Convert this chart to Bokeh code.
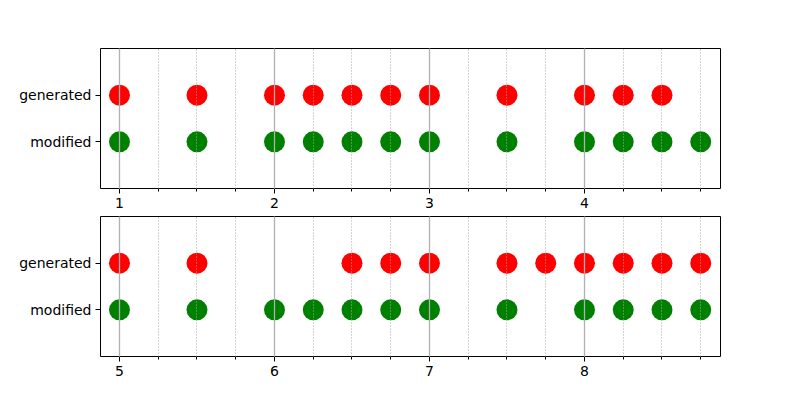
from bokeh.plotting import figure
from bokeh.layouts import column
from bokeh.models import Range1d, FactorRange, SingleIntervalTicker
from bokeh.embed import file_html
from bokeh.resources import INLINE

categories = ["modified", "generated"]

top_generated_x = [1, 1.5, 2, 2.25, 2.5, 2.75, 3, 3.5, 4, 4.25, 4.5]
top_modified_x = [1, 1.5, 2, 2.25, 2.5, 2.75, 3, 3.5, 4, 4.25, 4.5, 4.75]
bottom_generated_x = [5, 5.5, 6.5, 6.75, 7, 7.5, 7.75, 8, 8.25, 8.5, 8.75]
bottom_modified_x = [5, 5.5, 6, 6.25, 6.5, 6.75, 7, 7.5, 8, 8.25, 8.5, 8.75]

FONT = "DejaVu Sans"


def make_panel(gen_x, mod_x, x_start, height, top_border):
    p = figure(width=784, height=height, output_backend="svg", toolbar_location=None,
               x_range=Range1d(x_start, x_start + 4.0),
               y_range=FactorRange(*categories, range_padding=0.5),
               min_border_left=100, min_border_right=64,
               min_border_top=top_border, min_border_bottom=28)
    p.scatter(gen_x, ["generated"] * len(gen_x), size=21, color="#ff0000", line_color=None)
    p.scatter(mod_x, ["modified"] * len(mod_x), size=21, color="#008000", line_color=None)

    p.outline_line_color = "black"
    p.outline_line_width = 1
    p.outline_line_alpha = 1

    p.xaxis.ticker = SingleIntervalTicker(interval=1, num_minor_ticks=4)
    p.xaxis.axis_line_color = None
    p.yaxis.axis_line_color = None
    for ax in (p.xaxis, p.yaxis):
        ax.major_tick_in = 0
        ax.major_tick_out = 5
        ax.major_tick_line_color = "black"
        ax.major_label_text_font = FONT
        ax.major_label_text_font_size = "14px"
        ax.major_label_text_color = "black"
        ax.major_label_standoff = 4
    p.xaxis.minor_tick_in = 0
    p.xaxis.minor_tick_out = 3
    p.xaxis.minor_tick_line_color = "black"
    p.yaxis.minor_tick_line_color = None

    p.ygrid.grid_line_color = None
    p.xgrid.grid_line_color = "#b0b0b0"
    p.xgrid.grid_line_width = 1.3
    p.xgrid.minor_grid_line_color = "#a8a8a8"
    p.xgrid.minor_grid_line_width = 1
    p.xgrid.minor_grid_line_dash = "1 2"
    p.xgrid.level = "overlay"
    p.background_fill_color = "white"
    p.border_fill_color = "white"
    return p


p1 = make_panel(top_generated_x, top_modified_x, 0.8775, 216, 48)
p2 = make_panel(bottom_generated_x, bottom_modified_x, 4.8775, 168, 0)

layout = column(p1, p2, spacing=0)
open("out.html", "w").write(file_html(layout, INLINE))
